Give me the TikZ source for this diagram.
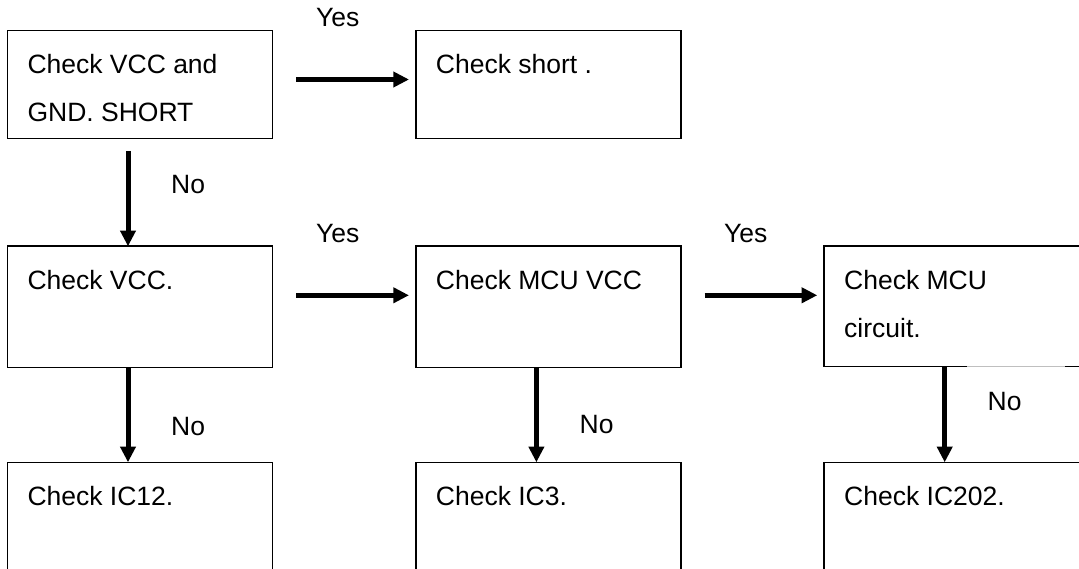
\documentclass[tikz,border=0pt]{standalone}
\usepackage{fontspec}
\setmainfont{Liberation Sans}
\usepackage{tikz}
\usetikzlibrary{arrows.meta}
\usetikzlibrary{calc}
\tikzstyle{box}=[draw, line width=1.6pt, outer sep=0pt, inner sep=0pt, anchor=north west]
\tikzstyle{boxtext}=[inner sep=0pt, anchor=base west]
\tikzstyle{answer}=[inner sep=0pt, anchor=base west]
\tikzstyle{flow}=[line width=5pt, -{Triangle[length=15.7pt,width=15pt]}]
\newcommand{\checkBox}[5]{
	\node[box, minimum width=#3, minimum height=#4] (#1) at #2 {};
	\node[boxtext] (#1-text) at ($(#1.north west)+(20,43.5)$) {\begin{tabular}[t]{@{}l@{}}#5\end{tabular}};
}

\begin{document}
\begin{tikzpicture}[x=1pt, y=-1pt, font=\fontsize{26.5}{48}\selectfont]
	\path[use as bounding box, clip] (0,0) rectangle (1079,569);
	\fill[white] (0,0) rectangle (1079,569);
	\checkBox{gnd}{(7.3,30.5)}{265pt}{108pt}{Check VCC and\\GND. SHORT}
	\checkBox{short}{(415.7,30.5)}{265pt}{108pt}{Check short .}
	\checkBox{vcc}{(7.3,246.3)}{265pt}{121pt}{Check VCC.}
	\checkBox{mcuvcc}{(415.7,246.3)}{265pt}{121pt}{Check MCU VCC}
	\checkBox{ckt}{(824,246.3)}{265pt}{120pt}{Check MCU\\circuit.}
	\checkBox{ic12}{(7.3,462.3)}{265pt}{130pt}{Check IC12.}
	\checkBox{ic3}{(415.7,462.3)}{265pt}{130pt}{Check IC3.}
	\checkBox{ic202}{(824,462.3)}{265pt}{130pt}{Check IC202.}
	% faint piece of the lower edge
	\draw[white, line width=2pt] ([xshift=143]ckt.south west) -- ([xshift=241]ckt.south west);
	\draw[black!25, line width=0.8pt] ([xshift=143]ckt.south west) -- ([xshift=241]ckt.south west);
	% yes
	\draw[flow] ([shift={(24,49)}]gnd.north east) -- ([shift={(-6.7,49)}]short.north west);
	\draw[flow] ([shift={(24,49)}]vcc.north east) -- ([shift={(-6.7,49)}]mcuvcc.north west);
	\draw[flow] ([shift={(24,49)}]mcuvcc.north east) -- ([shift={(-6.7,49)}]ckt.north west);
	% no
	\draw[flow] ([shift={(120.7,12.3)}]gnd.south west) -- ([xshift=120.7]vcc.north west);
	\draw[flow] ([xshift=120.7]vcc.south west) -- ([xshift=120.7]ic12.north west);
	\draw[flow] ([xshift=120.7]mcuvcc.south west) -- ([xshift=120.7]ic3.north west);
	\draw[flow] ([xshift=120.7]ckt.south west) -- ([xshift=120.7]ic202.north west);
	\node[answer] (yes1) at (316,26.7) {Yes};
	\node[answer] (yes2) at (316,242.3) {Yes};
	\node[answer] (yes3) at (724,242.3) {Yes};
	\node[answer] (no1) at (171,193.3) {No};
	\node[answer] (no2) at (171,435) {No};
	\node[answer] (no3) at (579.5,433.3) {No};
	\node[answer] (no4) at (987.5,410.7) {No};
\end{tikzpicture}
\end{document}
